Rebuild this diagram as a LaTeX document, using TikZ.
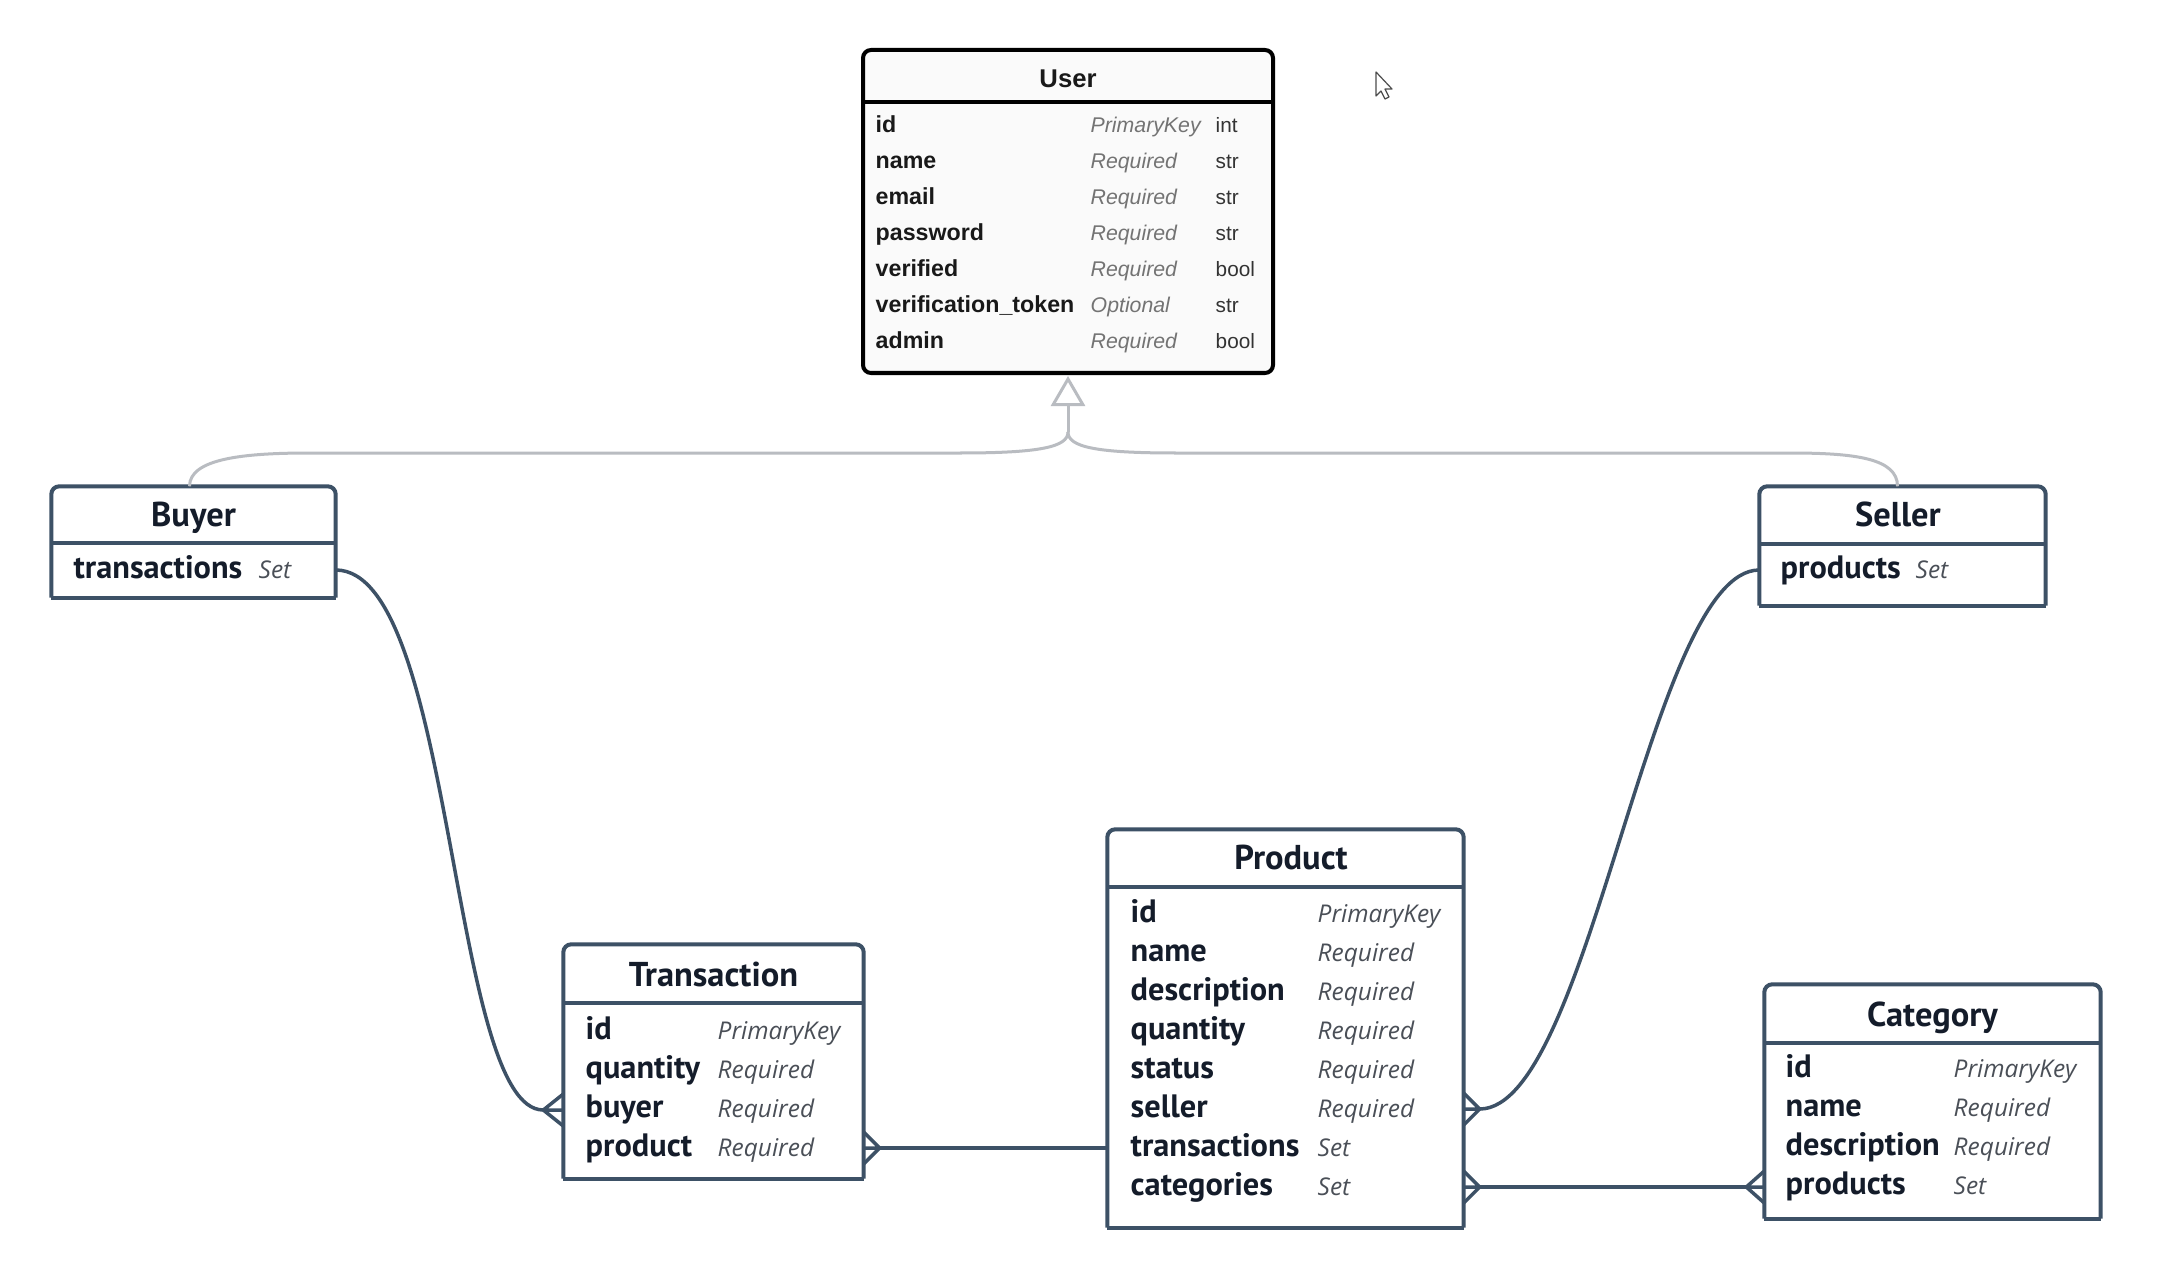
\documentclass[tikz,border=0pt]{standalone}
\usepackage{fontspec}
\setmainfont{PT Sans}
\newfontfamily\userfont{Liberation Sans}
\newfontfamily\consfont{Open Sans}
\usetikzlibrary{arrows.meta,fit,calc}

\definecolor{erline}{HTML}{3D5166}
\definecolor{ertext}{HTML}{141C2A}
\definecolor{ercons}{HTML}{4A4F57}
\definecolor{genline}{HTML}{B9BCC1}
\definecolor{userfill}{HTML}{FAFAFA}

\tikzset{
  boxarea/.style={inner sep=0pt, fill=white},
  erframe/.style={draw=erline, line width=0.04cm, line cap=square},
  etitle/.style={anchor=base, inner sep=0pt, text=ertext, font=\fontsize{9.8}{11}\selectfont\bfseries},
  fname/.style={anchor=base west, inner sep=0pt, text=ertext, font=\fontsize{9.2}{11}\selectfont\bfseries},
  fcons/.style={anchor=base west, inner sep=0pt, text=ercons, font=\consfont\fontsize{6.95}{8}\selectfont\itshape},
  utitle/.style={anchor=base, inner sep=0pt, text=black!90, font=\userfont\fontsize{7.3}{8}\selectfont\bfseries},
  uname/.style={anchor=base west, inner sep=0pt, text=black!90, font=\userfont\fontsize{6.6}{8}\selectfont\bfseries},
  ucons/.style={anchor=base west, inner sep=0pt, text=black!55, font=\userfont\fontsize{6.05}{7}\selectfont\itshape},
  utype/.style={anchor=base west, inner sep=0pt, text=black!80, font=\userfont\fontsize{5.9}{7}\selectfont},
  conn/.style={draw=erline, line width=0.035cm},
  inherit/.style={draw=genline, line width=0.03cm},
}

% frame of an entity box: rounded top corners, square bottom, header rule at #2
\newcommand\drawentity[2]{%
  \draw[erframe, rounded corners=0.08cm] (#1.south west) -- (#1.north west) -- (#1.north east) -- (#1.south east);
  \draw[erframe] (#1.south west) -- (#1.south east);
  \draw[erframe] (#1.west |- 0,#2) -- (#1.east |- 0,#2);
}
% crow's foot at edge point #1, junction offset #2 along x
\newcommand\crow[2]{%
  \draw[conn] ($(#1)+(#2,0)$) -- ($(#1)+(0,-16)$)
              ($(#1)+(#2,0)$) -- (#1)
              ($(#1)+(#2,0)$) -- ($(#1)+(0,16)$);
}

\begin{document}
\begin{tikzpicture}[x=0.01cm, y=-0.01cm]
\fill[white] (0,0) rectangle (2166,1282);
\useasboundingbox (0,0) rectangle (2166,1282);

% ---------- User ----------
\node[fit={(863,50) (1273,373)}, inner sep=0pt, draw=black, line width=0.04cm,
      rounded corners=0.08cm, fill=userfill] (user) {};
\draw[black, line width=0.04cm] (user.west |- 0,102) -- (user.east |- 0,102);
\node[utitle] (user-t) at (1068,88) {User};
\node[uname] (u-id)   at (875,133) {id};
\node[uname] (u-name) at (875,169) {name};
\node[uname] (u-mail) at (875,205) {email};
\node[uname] (u-pw)   at (875,241) {password};
\node[uname] (u-ver)  at (875,277) {verified};
\node[uname] (u-tok)  at (875,313) {verification\_token};
\node[uname] (u-adm)  at (875,349) {admin};
\node[ucons] (u-id-c)   at (1090,133) {PrimaryKey};
\node[ucons] (u-name-c) at (1090,169) {Required};
\node[ucons] (u-mail-c) at (1090,205) {Required};
\node[ucons] (u-pw-c)   at (1090,241) {Required};
\node[ucons] (u-ver-c)  at (1090,277) {Required};
\node[ucons] (u-tok-c)  at (1090,313) {Optional};
\node[ucons] (u-adm-c)  at (1090,349) {Required};
\node[utype] (u-id-y)   at (1215,133) {int};
\node[utype] (u-name-y) at (1215,169) {str};
\node[utype] (u-mail-y) at (1215,205) {str};
\node[utype] (u-pw-y)   at (1215,241) {str};
\node[utype] (u-ver-y)  at (1215,277) {bool};
\node[utype] (u-tok-y)  at (1215,313) {str};
\node[utype] (u-adm-y)  at (1215,349) {bool};

% ---------- Buyer ----------
\node[boxarea, fit={(52,487) (335,597)}] (buyer) {};
\drawentity{buyer}{543}
\node[etitle] (buyer-t) at (193.5,526) {Buyer};
\node[fname] (b-tr)   at (73,578) {transactions};
\node[fcons] (b-tr-c) at (258,578) {Set};

% ---------- Seller ----------
\node[boxarea, fit={(1760,487) (2045,605)}] (seller) {};
\drawentity{seller}{544}
\node[etitle] (seller-t) at (1898,526) {Seller};
\node[fname] (s-pr)   at (1780,578) {products};
\node[fcons] (s-pr-c) at (1915,578) {Set};

% ---------- Transaction ----------
\node[boxarea, fit={(564,945) (863,1178)}] (trans) {};
\drawentity{trans}{1003}
\node[etitle] (trans-t) at (713.5,986) {Transaction};
\node[fname] (t-id)  at (585,1039) {id};
\node[fname] (t-qty) at (585,1078) {quantity};
\node[fname] (t-buy) at (585,1117) {buyer};
\node[fname] (t-pro) at (585,1156) {product};
\node[fcons] (t-id-c)  at (717,1039) {PrimaryKey};
\node[fcons] (t-qty-c) at (717,1078) {Required};
\node[fcons] (t-buy-c) at (717,1117) {Required};
\node[fcons] (t-pro-c) at (717,1156) {Required};

% ---------- Product ----------
\node[boxarea, fit={(1108,830) (1463,1227)}] (prod) {};
\drawentity{prod}{887}
\node[etitle] (prod-t) at (1291,869) {Product};
\node[fname] (p-id)   at (1130,922)  {id};
\node[fname] (p-name) at (1130,961)  {name};
\node[fname] (p-desc) at (1130,1000) {description};
\node[fname] (p-qty)  at (1130,1039) {quantity};
\node[fname] (p-stat) at (1130,1078) {status};
\node[fname] (p-sel)  at (1130,1117) {seller};
\node[fname] (p-tr)   at (1130,1156) {transactions};
\node[fname] (p-cat)  at (1130,1195) {categories};
\node[fcons] (p-id-c)   at (1317,922)  {PrimaryKey};
\node[fcons] (p-name-c) at (1317,961)  {Required};
\node[fcons] (p-desc-c) at (1317,1000) {Required};
\node[fcons] (p-qty-c)  at (1317,1039) {Required};
\node[fcons] (p-stat-c) at (1317,1078) {Required};
\node[fcons] (p-sel-c)  at (1317,1117) {Required};
\node[fcons] (p-tr-c)   at (1317,1156) {Set};
\node[fcons] (p-cat-c)  at (1317,1195) {Set};

% ---------- Category ----------
\node[boxarea, fit={(1765,985) (2100,1218)}] (cat) {};
\drawentity{cat}{1043}
\node[etitle] (cat-t) at (1932.5,1026) {Category};
\node[fname] (c-id)   at (1785,1077) {id};
\node[fname] (c-name) at (1785,1116) {name};
\node[fname] (c-desc) at (1785,1155) {description};
\node[fname] (c-pro)  at (1785,1194) {products};
\node[fcons] (c-id-c)   at (1953,1077) {PrimaryKey};
\node[fcons] (c-name-c) at (1953,1116) {Required};
\node[fcons] (c-desc-c) at (1953,1155) {Required};
\node[fcons] (c-pro-c)  at (1953,1194) {Set};

% ---------- inheritance: Buyer, Seller -> User ----------
\coordinate (genjoin) at (user.south |- 0,432);
\draw[inherit] ($(buyer.north)+(-4,0)$) .. controls +(0,-28) and +(-65,0) .. (310,453)
  -- (960,453) .. controls +(80,0) and +(0,15) .. (genjoin);
\draw[inherit] ($(seller.north)+(-5,0)$) .. controls +(0,-28) and +(65,0) .. (1790,453)
  -- (1176,453) .. controls +(-80,0) and +(0,15) .. (genjoin);
\draw[inherit, -{Triangle[open, length=0.3cm, width=0.34cm, fill=white]}]
  (genjoin) -- (user.south |- 0,376);

% ---------- relations ----------
\coordinate (b-out)  at (buyer.east |- 0,570);
\coordinate (t-in)   at (trans.west |- 0,1110);
\coordinate (t-out)  at (trans.east |- 0,1148);
\coordinate (p-trin) at (prod.west |- 0,1148);
\coordinate (s-out)  at (seller.west |- 0,570);
\coordinate (p-selo) at (prod.east |- 0,1109);
\coordinate (p-cato) at (prod.east |- 0,1187);
\coordinate (c-in)   at (cat.west |- 0,1187);

\draw[conn] (b-out) .. controls (455,570) and (450,1110) .. ($(t-in)+(-20,0)$);
\crow{t-in}{-20}

\draw[conn] ($(t-out)+(16,0)$) -- (p-trin);
\crow{t-out}{16}

\draw[conn] (s-out) .. controls (1650,570) and (1590,1109) .. ($(p-selo)+(16,0)$);
\crow{p-selo}{16}

\draw[conn] ($(p-cato)+(16,0)$) -- ($(c-in)+(-18,0)$);
\crow{p-cato}{16}
\crow{c-in}{-18}

% ---------- mouse pointer ----------
\draw[black!70, fill=white, line width=0.012cm, line join=round]
  (1376,72) -- ++(0,24) -- ++(5,-5) -- ++(4,8) -- ++(4,-2) -- ++(-4,-8) -- ++(7,0) -- cycle;
\end{tikzpicture}
\end{document}
